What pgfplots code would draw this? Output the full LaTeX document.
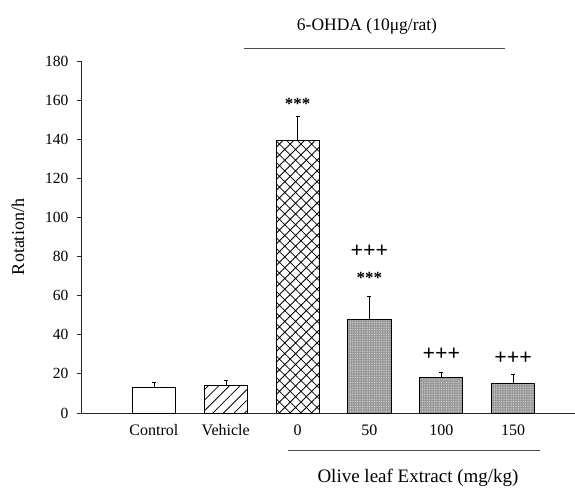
\documentclass[border=0pt]{standalone}
\usepackage{fontspec}
\setmainfont{Liberation Serif}
\usepackage{pgfplots}
\pgfplotsset{compat=1.18}
\usetikzlibrary{patterns.meta}
\begin{document}
\begin{tikzpicture}[x=1pt,y=1pt]
\path[use as bounding box] (0,0) rectangle (575,488);
\begin{axis}[
  at={(82pt,75pt)}, anchor=south west,
  scale only axis, width=493pt, height=352pt,
  xmin=0, xmax=6.86, ymin=0, ymax=180,
  axis lines*=left,
  axis line style={black!85, line width=1pt},
  xtick={1,2,3,4,5,6},
  xticklabels={Control,Vehicle,0,50,100,150},
  xtick style={draw=none},
  xticklabel style={font=\fontsize{16}{16}\selectfont, yshift=-3pt},
  ytick={0,20,...,180},
  tick align=outside,
  major tick length=5pt,
  ytick style={black!85, line width=0.8pt},
  yticklabel style={font=\fontsize{15.5}{15.5}\selectfont, xshift=-5pt},
  /pgf/number format/assume math mode=true,
  ylabel={Rotation/h},
  ylabel style={at={(axis description cs:-0.13,0.5)}, anchor=center, font=\fontsize{18}{18}\selectfont},
  bar width=0.6,
  clip=false,
]
\pgfplotsset{every plot/.append style={
  error bars/.cd, y dir=plus, y explicit, error mark=|,
  error mark options={draw=black, mark size=4pt, line width=0.8pt, rotate=90},
  error bar style={black, line width=0.8pt}}}
\addplot[ybar, bar shift=0pt, draw=black, line width=1pt, fill=white,
  error bars/.cd, y dir=plus, y explicit]
  coordinates {(1,13) +- (0,2.7)};
\addplot[ybar, bar shift=0pt, draw=black, line width=1pt, fill=white,
  postaction={pattern={Lines[angle=45,distance=7.5pt,line width=0.8pt]}},
  error bars/.cd, y dir=plus, y explicit]
  coordinates {(2,14) +- (0,2.7)};
\addplot[ybar, bar shift=0pt, draw=black, line width=1pt, fill=white,
  postaction={pattern={Hatch[angle=45,distance=7.6pt,line width=0.8pt]}},
  error bars/.cd, y dir=plus, y explicit]
  coordinates {(3,139.5) +- (0,12.5)};
\addplot[ybar, bar shift=0pt, draw=black, line width=1pt, fill=black!40,
  postaction={pattern={Dots[distance=2.4pt,radius=0.55pt]}, pattern color=white!90!black},
  error bars/.cd, y dir=plus, y explicit]
  coordinates {(4,48) +- (0,11.5) (5,18) +- (0,3) (6,15) +- (0,5)};
\node[font=\fontsize{17}{17}\selectfont\bfseries] at (axis cs:3,158) {***};
\node[font=\fontsize{22}{22}\selectfont\bfseries] at (axis cs:4,82.5) {+++};
\node[font=\fontsize{17}{17}\selectfont\bfseries] at (axis cs:4,69) {***};
\node[font=\fontsize{22}{22}\selectfont\bfseries] at (axis cs:5,30) {+++};
\node[font=\fontsize{22}{22}\selectfont\bfseries] at (axis cs:6,28) {+++};
\end{axis}
\draw[black!70, line width=1pt] (244,439) -- (505,439);
\node[font=\fontsize{17.5}{17.5}\selectfont] at (367,462) {6-OHDA (10μg/rat)};
\draw[black!70, line width=1pt] (288,38) -- (540,38);
\node[font=\fontsize{19}{19}\selectfont] at (418,10) {Olive leaf Extract (mg/kg)};
\end{tikzpicture}
\end{document}
